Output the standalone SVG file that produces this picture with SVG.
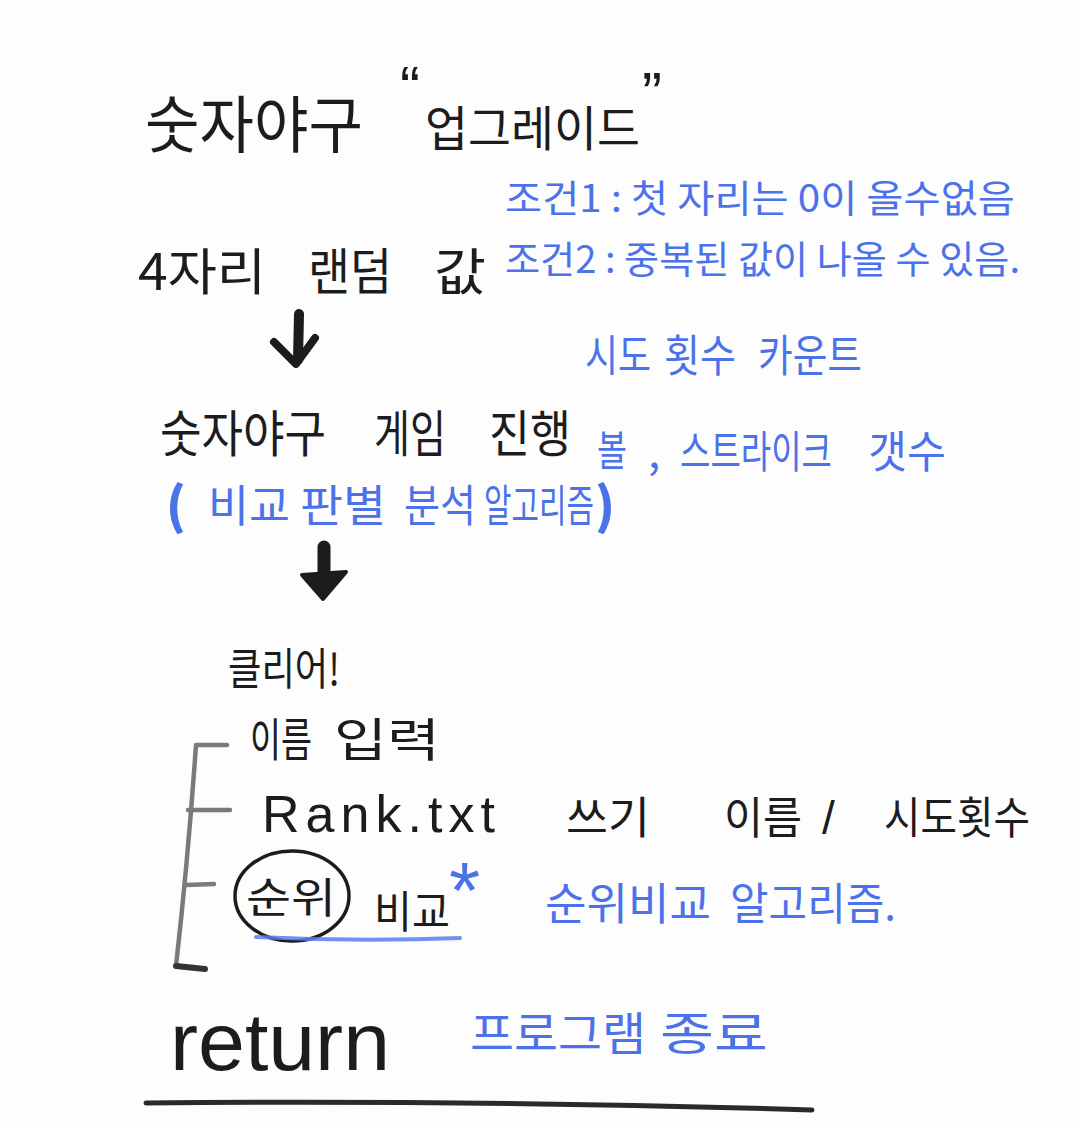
<svg xmlns="http://www.w3.org/2000/svg" width="1080" height="1126" viewBox="0 0 1080 1126">
<style>
text{font-family:"Noto Sans CJK KR","Noto Sans",sans-serif;}
.k{fill:#1c1c1c;}
.b{fill:#4c72ea;}
.lat{font-family:"Liberation Sans","Noto Sans",sans-serif;}
.ink{fill:none;stroke:#1c1c1c;stroke-linecap:round;stroke-linejoin:round;}
.pen{fill:none;stroke:#7a7a7a;stroke-linecap:round;stroke-linejoin:round;}
.blu{fill:none;stroke:#5a7ef0;stroke-linecap:round;opacity:0.85;}
</style>
<rect width="1080" height="1126" fill="#fdfdfe"/>

<g id="title">
<text class="k" x="145" y="148" font-size="62" textLength="218" lengthAdjust="spacingAndGlyphs">숫자야구</text>
<text class="k lat" x="400" y="108" font-size="60">“</text>
<text class="k" x="425" y="146" font-size="48" textLength="215" lengthAdjust="spacingAndGlyphs">업그레이드</text>
<text class="k lat" x="642" y="114" font-size="60">”</text>
</g>

<g id="cond">
<text class="b" x="505" y="212" font-size="38" textLength="510" lengthAdjust="spacingAndGlyphs">조건1 : 첫 자리는 0이 올수없음</text>
<text class="b" x="505" y="273" font-size="38" textLength="515" lengthAdjust="spacingAndGlyphs">조건2 : 중복된 값이 나올 수 있음.</text>
</g>

<g id="random">
<text class="k" x="138" y="290" font-size="50" textLength="128" lengthAdjust="spacingAndGlyphs">4자리</text>
<text class="k" x="308" y="290" font-size="50" textLength="84" lengthAdjust="spacingAndGlyphs">랜덤</text>
<text class="k" x="434" y="290" font-size="50" textLength="52" lengthAdjust="spacingAndGlyphs">값</text>
</g>

<g id="count">
<text class="b" x="585" y="372" font-size="44" textLength="66" lengthAdjust="spacingAndGlyphs">시도</text>
<text class="b" x="664" y="372" font-size="44" textLength="72" lengthAdjust="spacingAndGlyphs">횟수</text>
<text class="b" x="758" y="372" font-size="44" textLength="104" lengthAdjust="spacingAndGlyphs">카운트</text>
</g>

<g id="game">
<text class="k" x="160" y="452" font-size="50" textLength="166" lengthAdjust="spacingAndGlyphs">숫자야구</text>
<text class="k" x="374" y="452" font-size="50" textLength="72" lengthAdjust="spacingAndGlyphs">게임</text>
<text class="k" x="489" y="452" font-size="50" textLength="82" lengthAdjust="spacingAndGlyphs">진행</text>
</g>

<g id="ballstrike">
<text class="b" x="597" y="466" font-size="42" textLength="30" lengthAdjust="spacingAndGlyphs">볼</text>
<text class="b" x="648" y="468" font-size="44">,</text>
<text class="b" x="680" y="468" font-size="44" textLength="152" lengthAdjust="spacingAndGlyphs">스트라이크</text>
<text class="b" x="868" y="468" font-size="44" textLength="78" lengthAdjust="spacingAndGlyphs">갯수</text>
</g>

<g id="algo">
<text class="b" x="166" y="524" font-size="50" font-weight="900">(</text>
<text class="b" x="208" y="522" font-size="44" textLength="82" lengthAdjust="spacingAndGlyphs">비교</text>
<text class="b" x="300" y="522" font-size="44" textLength="86" lengthAdjust="spacingAndGlyphs">판별</text>
<text class="b" x="404" y="522" font-size="44" textLength="72" lengthAdjust="spacingAndGlyphs">분석</text>
<text class="b" x="484" y="522" font-size="44" textLength="110" lengthAdjust="spacingAndGlyphs">알고리즘</text>
<text class="b" x="595" y="524" font-size="50" font-weight="900">)</text>
</g>

<g id="clear">
<text class="k" x="228" y="685" font-size="44" textLength="112" lengthAdjust="spacingAndGlyphs">클리어!</text>
</g>

<g id="name">
<text class="k" x="250" y="756" font-size="46" textLength="62" lengthAdjust="spacingAndGlyphs">이름</text>
<text class="k" x="334" y="756" font-size="46" textLength="106" lengthAdjust="spacingAndGlyphs">입력</text>
</g>

<g id="rank">
<text class="k lat" x="262" y="832" font-size="52" textLength="233" lengthAdjust="spacing">Rank.txt</text>
<text class="k" x="566" y="834" font-size="44" textLength="84" lengthAdjust="spacingAndGlyphs">쓰기</text>
<text class="k" x="724" y="834" font-size="44" textLength="78" lengthAdjust="spacingAndGlyphs">이름</text>
<text class="k lat" x="822" y="834" font-size="46">/</text>
<text class="k" x="884" y="834" font-size="44" textLength="146" lengthAdjust="spacingAndGlyphs">시도횟수</text>
</g>

<g id="rankcompare">
<ellipse class="ink" cx="292" cy="896" rx="57" ry="45" stroke-width="3.5"/>
<text class="k" x="246" y="913" font-size="42" textLength="90" lengthAdjust="spacingAndGlyphs">순위</text>
<text class="k" x="374" y="928" font-size="44" textLength="76" lengthAdjust="spacingAndGlyphs">비교</text>
<text class="b lat" x="449" y="918" font-size="80">*</text>
<path class="blu" d="M256,937 Q360,942 460,938" stroke-width="4"/>
</g>

<g id="rankalgo">
<text class="b" x="545" y="920" font-size="44" textLength="166" lengthAdjust="spacingAndGlyphs">순위비교</text>
<text class="b" x="730" y="920" font-size="44" textLength="166" lengthAdjust="spacingAndGlyphs">알고리즘.</text>
</g>

<g id="return">
<text class="k lat" x="170" y="1070" font-size="82" textLength="220" lengthAdjust="spacingAndGlyphs">return</text>
<text class="b" x="470" y="1050" font-size="46" textLength="176" lengthAdjust="spacingAndGlyphs">프로그램</text>
<text class="b" x="660" y="1050" font-size="46" textLength="108" lengthAdjust="spacingAndGlyphs">종료</text>
</g>

<g id="connectors">
<path class="ink" d="M299,314 L298,360" stroke-width="10"/>
<path class="ink" d="M274,342 L296,364 L315,338" stroke-width="8"/>
<path class="ink" d="M324,547 L324,578" stroke-width="13"/>
<path d="M302,575 L346,572 L323,599 Z" fill="#1c1c1c" stroke="#1c1c1c" stroke-width="4" stroke-linejoin="round"/>
<path class="pen" d="M227,745 L196,745 Q188,860 176,966" stroke-width="4.5"/>
<path class="pen" d="M188,810 L230,810" stroke-width="4.5"/>
<path class="pen" d="M186,885 L214,884" stroke-width="4.5"/>
<path d="M176,966 L205,969" fill="none" stroke="#333" stroke-width="6" stroke-linecap="round"/>
<path d="M146,1103 Q480,1100 812,1110" fill="none" stroke="#2a2a2a" stroke-width="5" stroke-linecap="round"/>
</g>
</svg>
